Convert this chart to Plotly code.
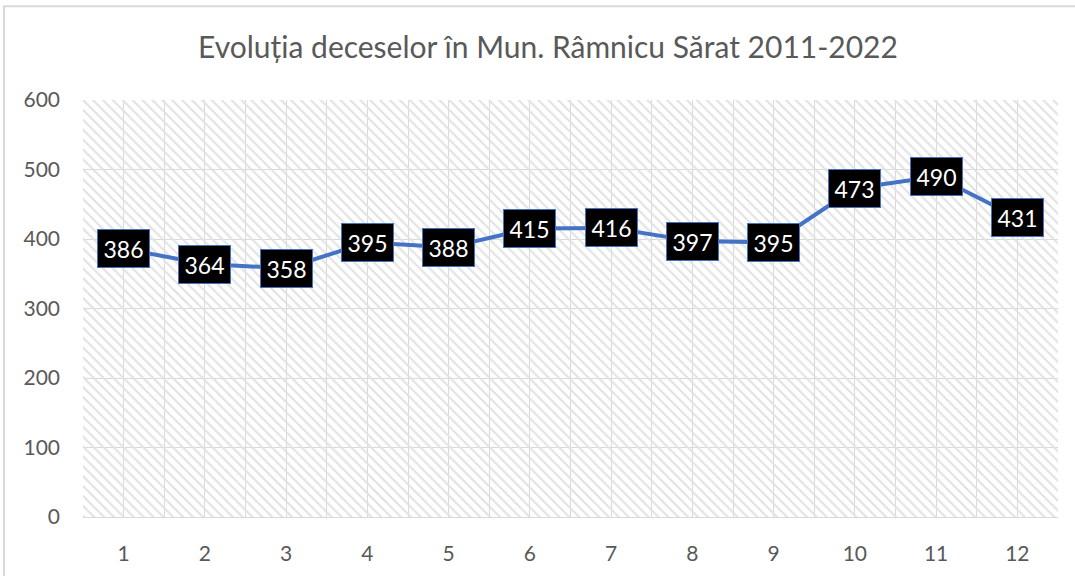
import plotly.graph_objects as go

# date
ani = list(range(1, 13))
decese = [386, 364, 358, 395, 388, 415, 416, 397, 395, 473, 490, 431]
y_ticks = [0, 100, 200, 300, 400, 500, 600]

Y_MAX = 600
GRID = '#d9d9d9'
TEXT = '#595959'
BLUE = '#4472C4'
FONT = 'Lato'

fig = go.Figure()

# fundal hasurat (plot area fill)
fig.add_trace(go.Bar(
    x=ani, y=[Y_MAX] * len(ani), width=1,
    marker={'color': 'rgba(0,0,0,0)', 'line': {'width': 0},
            'pattern': {'shape': '\\', 'fgcolor': '#e2e2e2', 'size': 7,
                        'solidity': 0.3, 'fillmode': 'replace'}},
    hoverinfo='skip', showlegend=False
))

fig.add_trace(go.Scatter(
    x=ani, y=decese, mode='lines',
    line={'color': BLUE, 'width': 4},
    showlegend=False
))

for a, v in zip(ani, decese):
    fig.add_annotation(
        x=a, y=v, text=str(v), showarrow=False,
        font={'family': FONT, 'size': 23, 'color': 'white'},
        bgcolor='black', bordercolor=BLUE, borderwidth=1,
        width=51, height=37, borderpad=0
    )

# chenarul graficului
fig.add_shape(type='rect', xref='paper', yref='paper',
              x0=-0.081, x1=1.2, y0=-0.5, y1=1.225,
              line={'color': GRID, 'width': 2}, layer='below')

fig.update_layout(
    width=1075, height=576,
    margin={'l': 83, 'r': 17, 't': 100, 'b': 59},
    paper_bgcolor='white', plot_bgcolor='white',
    bargap=0,
    title={'text': 'Evoluția deceselor în Mun. Râmnicu Sărat 2011-2022',
           'x': 548 / 1075, 'xanchor': 'center', 'y': 1 - 47 / 576, 'yanchor': 'middle',
           'font': {'family': FONT, 'size': 30, 'color': TEXT}},
    xaxis={'range': [0.5, 12.5], 'tickmode': 'array', 'tickvals': ani,
           'ticktext': [str(a) for a in ani],
           'showgrid': True, 'gridcolor': GRID, 'gridwidth': 1,
           'minor': {'tickmode': 'linear', 'tick0': 0.5, 'dtick': 1,
                     'showgrid': True, 'gridcolor': GRID, 'gridwidth': 1},
           'showline': True, 'linecolor': GRID, 'linewidth': 1,
           'zeroline': False, 'ticks': '', 'ticklabelstandoff': 18,
           'tickfont': {'family': FONT, 'size': 21, 'color': TEXT}},
    yaxis={'range': [0, Y_MAX], 'tickmode': 'array', 'tickvals': y_ticks,
           'showgrid': True, 'gridcolor': GRID, 'gridwidth': 1,
           'zeroline': False, 'showline': False, 'ticks': '',
           'ticklabelstandoff': 22,
           'tickfont': {'family': FONT, 'size': 21, 'color': TEXT}},
)

fig.write_html('out.html', config={'displayModeBar': False},
               post_script="document.body.style.margin='0';")
